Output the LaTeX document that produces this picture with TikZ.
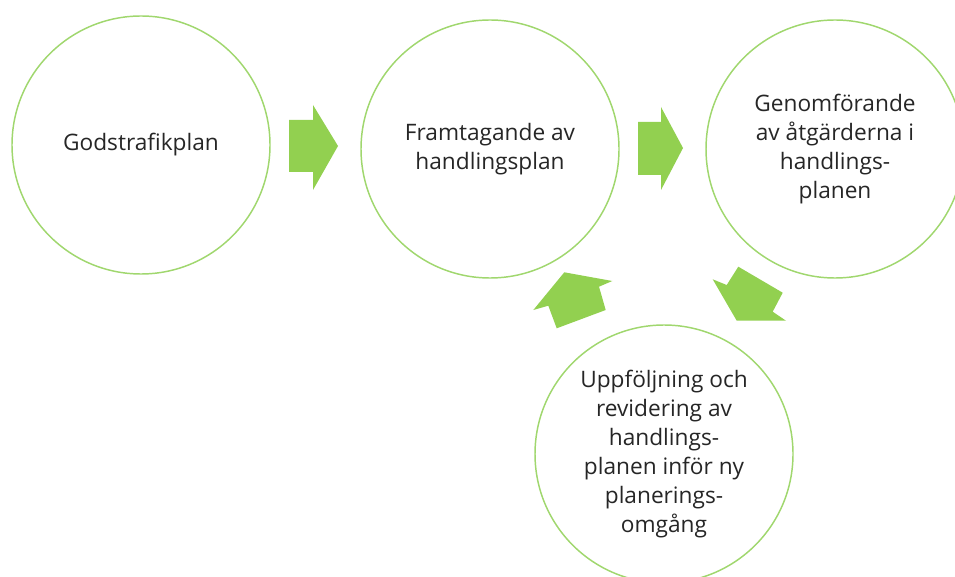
\documentclass[tikz,border=0pt]{standalone}
\usepackage{fontspec}
\setmainfont{Open Sans}
\definecolor{stepgreen}{RGB}{146,208,80}
\definecolor{ringgreen}{RGB}{160,215,110}
\begin{document}
\begin{tikzpicture}[
                x=0.75pt,y=-0.75pt,
                every node/.append style={text=black!85},
                phase/.style={circle,draw=ringgreen,line width=1.1pt,fill=white,minimum size=193.5pt,inner sep=0pt,align=center,font=\fontsize{17}{21.75}\selectfont},
                blockarrow/.style={fill=stepgreen}
            ]
                \useasboundingbox (0,0) rectangle (955,577);
                \clip (0,0) rectangle (955,577);
                \node[phase] (godstrafik) at (141,145) {Godstrafikplan};
                \node[phase] (framtagande) at (490,149) {Framtagande av\\handlingsplan};
                \node[phase] (genomforande) at (835,149) {Genomförande\\av åtgärderna i\\handlings-\\planen};
                \node[phase] (uppfoljning) at (664,454) {Uppföljning och\\revidering av\\handlings-\\planen inför ny\\planerings-\\omgång};
                % block arrows between the phases
                \fill[blockarrow] (289,120) -- (313,120) -- (313,105) -- (338,146) -- (313,190) -- (313,172) -- (289,172) -- cycle;
                \fill[blockarrow] (638,122) -- (661,122) -- (661,107) -- (683,148) -- (661,190) -- (661,175) -- (638,175) -- cycle;
                \fill[blockarrow] (738.3,266.7) -- (782.7,292.7) -- (772.7,311.7) -- (786,320.7) -- (736.7,320.7) -- (712.7,279.3) -- (726.7,285) -- cycle;
                \fill[blockarrow] (564.3,272.3) -- (612.3,281) -- (599,286.7) -- (605.7,310) -- (556.7,328.3) -- (548.3,305.7) -- (533.3,310) -- cycle;
            \end{tikzpicture}
\end{document}
